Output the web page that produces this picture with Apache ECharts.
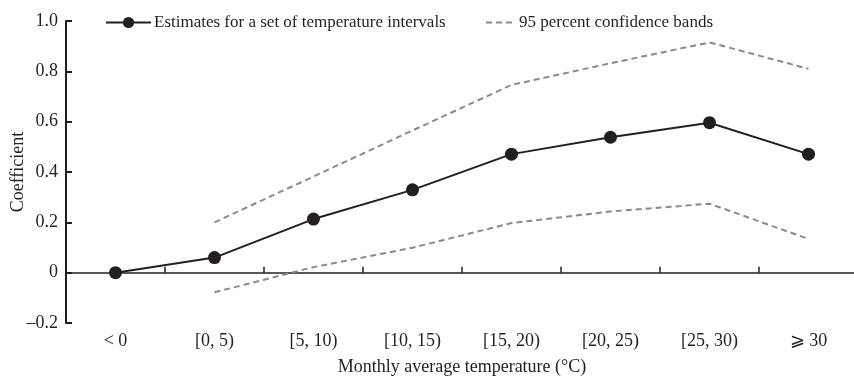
<!DOCTYPE html>
<html>
<head>
<meta charset="utf-8">
<script src="https://cdn.jsdelivr.net/npm/echarts@6/dist/echarts.min.js"></script>
<style>html,body{margin:0;padding:0;background:#fff}#c{width:854px;height:383px}</style>
</head>
<body>
<div id="c"></div>
<script>
const categories = ['< 0', '[0, 5)', '[5, 10)', '[10, 15)', '[15, 20)', '[20, 25)', '[25, 30)', '\u2A7E 30'];
const estimates = [0, 0.06, 0.213, 0.329, 0.471, 0.538, 0.596, 0.471];
const upperBand = [null, 0.2, 0.382, 0.565, 0.746, 0.832, 0.915, 0.81];
const lowerBand = [null, -0.078, 0.022, 0.099, 0.197, 0.243, 0.274, 0.134];
const estName = 'Estimates for a set of temperature intervals';
const bandName = '95 percent confidence bands';
const xName = 'Monthly average temperature (\u00B0C)';
const yName = 'Coefficient';

const ink = '#231f20';
const font = 'Liberation Serif';
const chart = echarts.init(document.getElementById('c'), null, {renderer: 'canvas'});
chart.setOption({
  animation: false,
  backgroundColor: '#fff',
  textStyle: {fontFamily: font, color: ink},
  grid: {left: 66, right: -4, top: 21, bottom: 60, containLabel: false, outerBoundsMode: 'none'},
  legend: [
    {data: [estName], left: 100, top: 9, itemWidth: 45, itemHeight: 14, itemGap: 0,
     textStyle: {fontFamily: font, fontSize: 17, color: ink, padding: [0, 0, 0, -2]}},
    {data: [{name: bandName, itemStyle: {opacity: 0}}], left: 480, top: 9, itemWidth: 30, itemHeight: 14, itemGap: 0,
     textStyle: {fontFamily: font, fontSize: 17, color: ink, padding: [0, 0, 0, -2]}}
  ],
  xAxis: {
    type: 'category', data: categories, boundaryGap: true,
    name: xName, nameLocation: 'middle', nameGap: 35,
    nameTextStyle: {fontFamily: font, fontSize: 18, color: ink},
    axisLine: {show: true, onZero: true, lineStyle: {color: ink, width: 1.5}},
    axisTick: {show: true, inside: true, length: 6, interval: 0, alignWithLabel: false, lineStyle: {color: ink, width: 1.5}},
    axisLabel: {show: true, margin: 9, interval: 0, fontFamily: font, fontSize: 18, color: ink},
    splitLine: {show: false}
  },
  yAxis: {
    type: 'value', min: -0.2, max: 1.0, interval: 0.2,
    name: yName, nameLocation: 'middle', nameGap: 39, nameRotate: 90, nameMoveOverlap: false,
    nameTextStyle: {fontFamily: font, fontSize: 18, color: ink},
    axisLine: {show: true, onZero: false, lineStyle: {color: ink, width: 2}},
    axisTick: {show: true, inside: true, length: 6, lineStyle: {color: ink, width: 2}},
    axisLabel: {margin: 8, fontFamily: font, fontSize: 18, color: ink,
      formatter: v => Math.abs(v) < 1e-9 ? '0' : (v < 0 ? '\u2013' + Math.abs(v).toFixed(1) : v.toFixed(1))},
    splitLine: {show: false}
  },
  series: [
    {name: bandName, type: 'line', data: upperBand, symbol: 'none', connectNulls: false,
     lineStyle: {color: '#8a8a8a', width: 2, type: [6, 4]}, itemStyle: {color: '#8a8a8a'}, z: 2},
    {name: bandName, type: 'line', data: lowerBand, symbol: 'none',
     lineStyle: {color: '#8a8a8a', width: 2, type: [6, 4]}, itemStyle: {color: '#8a8a8a'}, z: 2},
    {name: estName, type: 'line', data: estimates, symbol: 'circle', symbolSize: 13,
     lineStyle: {color: ink, width: 2}, itemStyle: {color: ink}, z: 3}
  ]
});
</script>
</body>
</html>
